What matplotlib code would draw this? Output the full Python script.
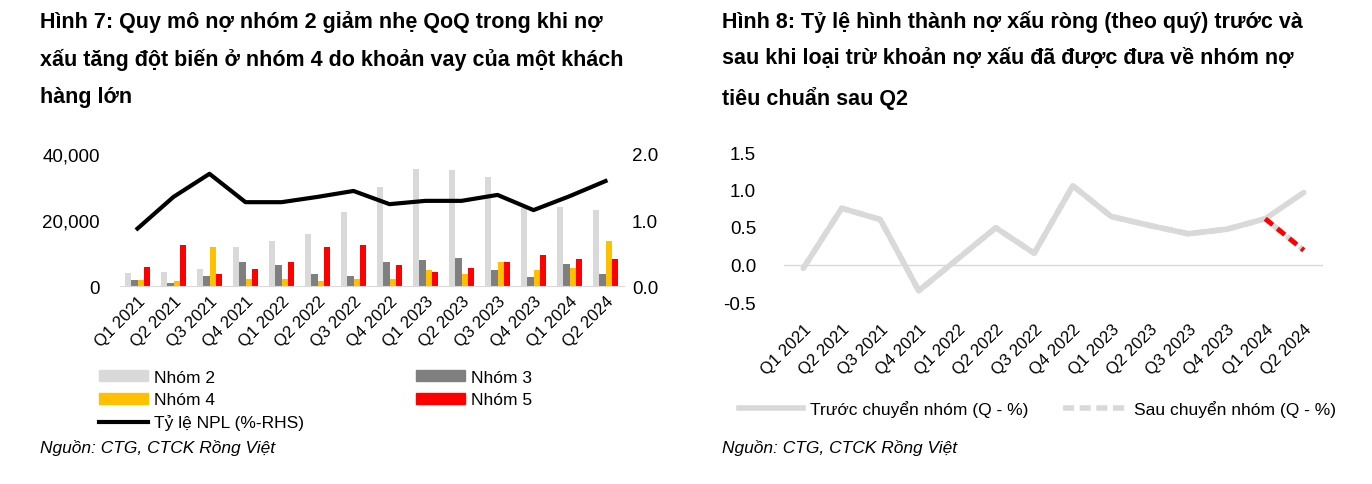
import matplotlib
matplotlib.use('Agg')
import matplotlib.pyplot as plt
import numpy as np
from matplotlib.lines import Line2D
from matplotlib.patches import Patch

plt.rcParams['font.family'] = ['Liberation Sans Narrow', 'Liberation Sans', 'DejaVu Sans']

quarters = ['Q1 2021', 'Q2 2021', 'Q3 2021', 'Q4 2021', 'Q1 2022', 'Q2 2022', 'Q3 2022',
            'Q4 2022', 'Q1 2023', 'Q2 2023', 'Q3 2023', 'Q4 2023', 'Q1 2024', 'Q2 2024']

# Fig 7: debt by group (bn VND) and NPL ratio (%)
nhom2 = [3800, 4300, 5200, 11900, 13500, 15700, 22500, 29900, 35500, 35100, 33000, 23500, 24000, 22900]
nhom3 = [1700, 900, 3000, 7200, 6400, 3500, 3000, 7200, 8000, 8500, 4700, 2600, 6800, 3500]
nhom4 = [1700, 1400, 11900, 2100, 2200, 1400, 2100, 2100, 4700, 3500, 7200, 4700, 5600, 13500]
nhom5 = [5700, 12300, 3500, 5100, 7200, 11900, 12300, 6400, 4300, 5600, 7200, 9400, 8100, 8100]
npl = [0.87, 1.35, 1.70, 1.27, 1.27, 1.35, 1.44, 1.24, 1.29, 1.29, 1.38, 1.15, 1.36, 1.59]

# Fig 8: net NPL formation (quarterly, %)
truoc = [-0.05, 0.75, 0.60, -0.35, 0.07, 0.49, 0.15, 1.05, 0.64, 0.52, 0.41, 0.47, 0.61, 0.96]
sau = [-0.05, 0.75, 0.60, -0.35, 0.07, 0.49, 0.15, 1.05, 0.64, 0.52, 0.41, 0.47, 0.61, 0.19]

c2, c3, c4, c5 = '#d9d9d9', '#7f7f7f', '#ffc000', '#ff0000'
W, H = 1372, 485
fs = 12.5
fig = plt.figure(figsize=(W / 100, H / 100), dpi=100)

title_kw = dict(fontsize=15.5, fontweight='bold', va='top', ha='left', linespacing=1.95)
fig.text(40 / W, 1 - 11 / H,
         'Hình 7: Quy mô nợ nhóm 2 giảm nhẹ QoQ trong khi nợ\n'
         'xấu tăng đột biến ở nhóm 4 do khoản vay của một khách\n'
         'hàng lớn', **title_kw)
fig.text(722 / W, 1 - 11 / H,
         'Hình 8: Tỷ lệ hình thành nợ xấu ròng (theo quý) trước và\n'
         'sau khi loại trừ khoản nợ xấu đã được đưa về nhóm nợ\n'
         'tiêu chuẩn sau Q2', **title_kw)

# ---- left chart
ax = fig.add_axes([119.5 / W, 1 - 287 / H, 504 / W, 132 / H])
x = np.arange(len(quarters))
bw = 0.172
for i, (vals, col) in enumerate([(nhom2, c2), (nhom3, c3), (nhom4, c4), (nhom5, c5)]):
    ax.bar(x + (i - 1.5) * bw, vals, width=bw, color=col, zorder=2)
ax.set_ylim(0, 40000)
ax.set_xlim(-0.5, len(quarters) - 0.5)
ax.set_yticks([0, 20000, 40000])
ax.set_yticklabels(['0', '20,000', '40,000'])
ax2 = ax.twinx()
ax2.plot(x, npl, color='black', lw=3, zorder=3)
ax2.set_ylim(0, 2.0)
ax2.set_yticks([0, 1.0, 2.0])
ax2.set_yticklabels(['0.0', '1.0', '2.0'])
for a in (ax, ax2):
    for s in a.spines.values():
        s.set_visible(False)
    a.tick_params(length=0, labelsize=13.5)
ax.spines['bottom'].set_visible(True)
ax.spines['bottom'].set_color('#d9d9d9')
ax.tick_params(axis='y', pad=14)
ax2.tick_params(axis='y', pad=6)
ax.set_xticks(x)
ax.set_xticklabels(quarters, rotation=45, ha='right', rotation_mode='anchor', fontsize=12)
ax.tick_params(axis='x', pad=5)

handles = [Patch(color=c2), Patch(color=c4), Line2D([], [], color='black', lw=3),
           Patch(color=c3), Patch(color=c5)]
labels = ['Nhóm 2', 'Nhóm 4', 'Tỷ lệ NPL (%-RHS)', 'Nhóm 3', 'Nhóm 5']
fig.legend(handles, labels, ncol=2, loc='upper left', bbox_to_anchor=(92 / W, 1 - 364 / H),
           frameon=False, fontsize=fs, handlelength=2.8, handleheight=0.6,
           handletextpad=0.35, columnspacing=6.5, labelspacing=0.42, borderaxespad=0)
fig.text(40 / W, 1 - 448 / H, 'Nguồn: CTG, CTCK Rồng Việt', fontsize=fs, style='italic',
         va='center', ha='left')

# ---- right chart
bx = fig.add_axes([784 / W, 1 - 303 / H, 539 / W, 150 / H])
bx.plot(x, sau, color=c2, lw=4, ls=(0, (2, 1)), zorder=2)
bx.plot(x, truoc, color=c2, lw=4, solid_capstyle='round', zorder=3)
bx.plot(x[-2:], sau[-2:], color=c5, lw=3.5, ls=(0, (2, 1.2)), zorder=4)
bx.axhline(0, color='#d9d9d9', lw=1, zorder=1)
bx.set_ylim(-0.5, 1.5)
bx.set_xlim(-0.5, len(quarters) - 0.5)
bx.set_yticks([-0.5, 0.0, 0.5, 1.0, 1.5])
bx.set_yticklabels(['-0.5', '0.0', '0.5', '1.0', '1.5'])
for s in bx.spines.values():
    s.set_visible(False)
bx.tick_params(length=0, labelsize=13.5)
bx.tick_params(axis='y', pad=20)
bx.set_xticks(x)
bx.set_xticklabels(quarters, rotation=45, ha='right', rotation_mode='anchor', fontsize=12)
bx.tick_params(axis='x', pad=14)

rh = [Line2D([], [], color=c2, lw=4), Line2D([], [], color=c2, lw=4, ls=(0, (2, 1)))]
fig.legend(rh, ['Trước chuyển nhóm (Q - %)', 'Sau chuyển nhóm (Q - %)'], ncol=2,
           loc='center left', bbox_to_anchor=(732 / W, 1 - 410 / H), frameon=False,
           fontsize=fs, handlelength=3.7, handletextpad=0.4, columnspacing=2.0,
           borderaxespad=0)
fig.text(722 / W, 1 - 448 / H, 'Nguồn: CTG, CTCK Rồng Việt', fontsize=fs, style='italic',
         va='center', ha='left')

fig.savefig('out.png', dpi=100, facecolor='white')
